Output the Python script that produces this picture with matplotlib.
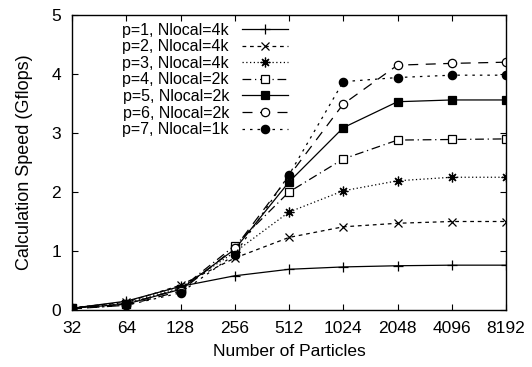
import matplotlib
matplotlib.use("Agg")
import matplotlib.pyplot as plt
import numpy as np

plt.rcParams['font.family'] = ['Liberation Sans', 'DejaVu Sans']

particles = [32, 64, 128, 256, 512, 1024, 2048, 4096, 8192]
labels = ["p=1, Nlocal=4k", "p=2, Nlocal=4k", "p=3, Nlocal=4k", "p=4, Nlocal=2k",
          "p=5, Nlocal=2k", "p=6, Nlocal=2k", "p=7, Nlocal=1k"]
p1 = [0.03, 0.15, 0.40, 0.58, 0.69, 0.73, 0.75, 0.76, 0.76]
p2 = [0.04, 0.13, 0.42, 0.88, 1.23, 1.41, 1.47, 1.50, 1.50]
p3 = [0.03, 0.12, 0.38, 0.98, 1.66, 2.02, 2.19, 2.25, 2.25]
p4 = [0.03, 0.10, 0.36, 1.09, 2.00, 2.56, 2.88, 2.89, 2.90]
p5 = [0.03, 0.10, 0.35, 1.03, 2.17, 3.09, 3.53, 3.56, 3.56]
p6 = [0.02, 0.08, 0.32, 1.05, 2.27, 3.49, 4.15, 4.18, 4.20]
p7 = [0.02, 0.08, 0.29, 0.94, 2.29, 3.87, 3.94, 3.98, 3.98]
series = [p1, p2, p3, p4, p5, p6, p7]

styles = [
    dict(ls='-', marker='+', ms=7, mfc='black'),
    dict(ls=(0, (3, 3)), marker='x', ms=6, mfc='black'),
    dict(ls=(0, (1, 2)), marker=(8, 2, 0), ms=7, mfc='black'),
    dict(ls=(0, (7, 3, 1, 3)), marker='s', ms=5.5, mfc='white'),
    dict(ls='-', marker='s', ms=6, mfc='black'),
    dict(ls=(0, (8, 6)), marker='o', ms=6, mfc='white'),
    dict(ls=(0, (2, 4)), marker='o', ms=6, mfc='black'),
]

fig = plt.figure(figsize=(5.32, 3.67), dpi=100)
ax = fig.add_axes([72/532, 1-310/367, 434/532, 295/367])

for ys, lab, st in zip(series, labels, styles):
    ax.plot(particles, ys, color='black', lw=0.9, mec='black', mew=0.9,
            label=lab, **st)

ax.set_xscale('log', base=2)
ax.set_xlim(32, 8192)
ax.set_ylim(0, 5)
ax.set_xticks(particles)
ax.set_xticklabels([str(v) for v in particles])
ax.set_yticks([0, 1, 2, 3, 4, 5])
ax.xaxis.set_minor_locator(matplotlib.ticker.NullLocator())
ax.tick_params(direction='in', top=True, right=True, labelsize=12.5, length=4, width=0.8, pad=8)
for s in ax.spines.values():
    s.set_linewidth(1.0)
ax.set_xlabel("Number of Particles", fontsize=12.5, labelpad=6)
ax.set_ylabel("Calculation Speed (Gflops)", fontsize=13, labelpad=13)

leg = ax.legend(loc='upper right', bbox_to_anchor=(0.505, 0.985), frameon=False,
                markerfirst=False, fontsize=11.5, handlelength=2.9, labelspacing=0.1,
                borderpad=0.2, handletextpad=0.8, borderaxespad=0)

fig.savefig("out.png", dpi=100)
